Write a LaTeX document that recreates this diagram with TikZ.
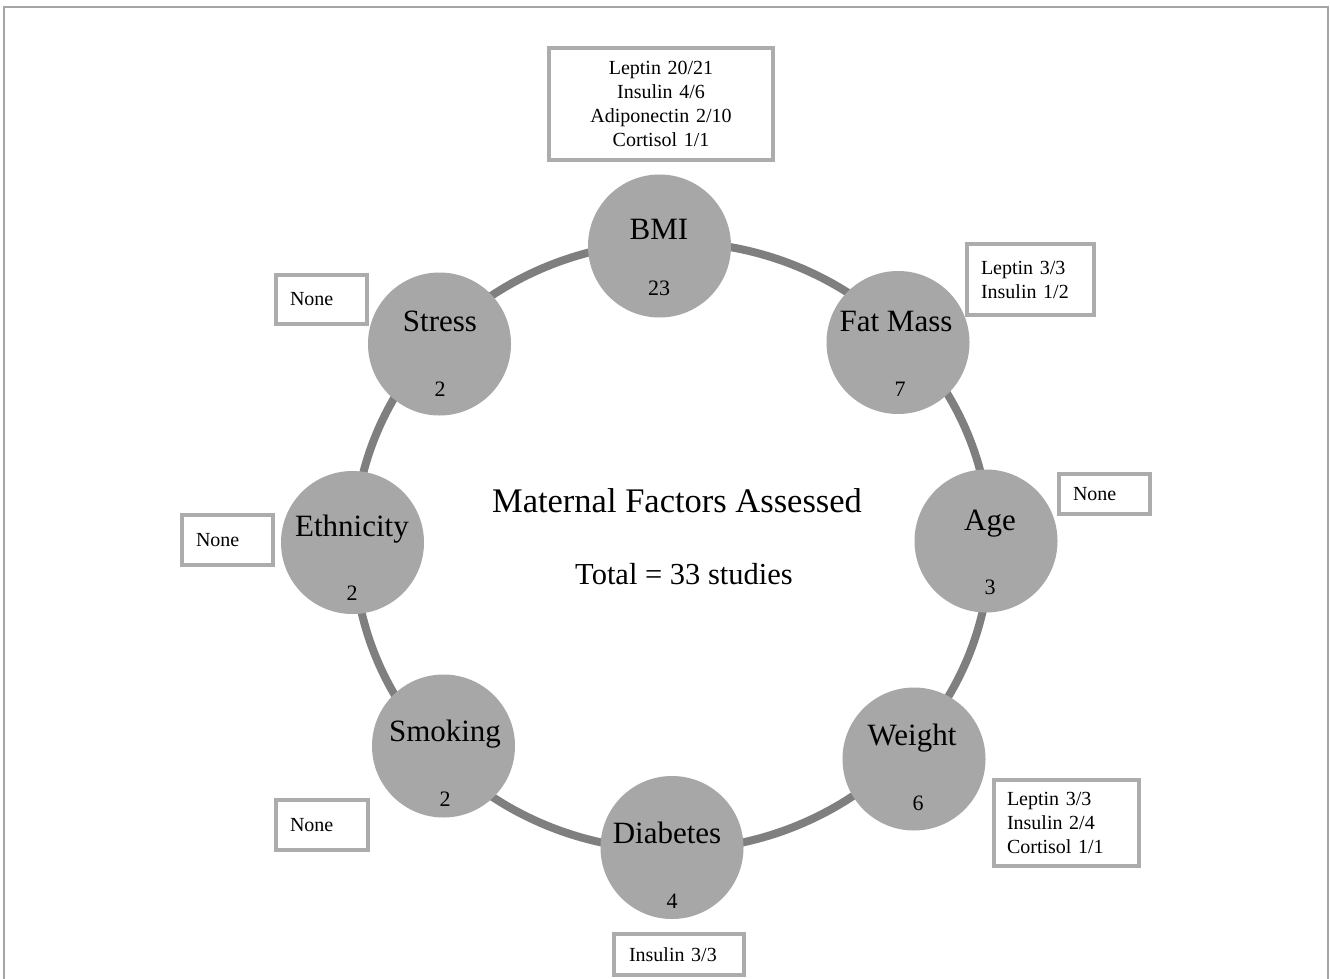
\documentclass[tikz,border=0pt]{standalone}
\usepackage{fontspec}
\setmainfont{Liberation Serif}
\definecolor{circfill}{RGB}{167,167,167}
\definecolor{ringc}{RGB}{127,127,127}
\definecolor{boxc}{RGB}{172,172,172}
\definecolor{framec}{RGB}{165,165,165}
\begin{document}
\begin{tikzpicture}[x=1pt,y=-1pt,
  circ/.style={circle, fill=circfill, minimum size=143pt, inner sep=0pt},
  lab/.style={font=\fontsize{31}{36}\selectfont, inner sep=0pt, text height=20pt, text depth=0pt},
  num/.style={font=\fontsize{22}{26}\selectfont, inner sep=0pt, text height=15pt, text depth=0pt},
  infobox/.style={draw=boxc, line width=4pt, fill=white, font=\fontsize{20}{24}\selectfont,
                  inner xsep=14pt, inner ysep=0pt, align=left},
  ring/.style={draw=ringc, line width=8pt}
]
\useasboundingbox (0,0) rectangle (1330,979);
\fill[white] (0,0) rectangle (1330,979);
\draw[framec, line width=1.5pt] (4,979) -- (4,7) -- (1328,7) -- (1328,979);

% circle positions
\coordinate (cbmi) at (659.5,246);
\coordinate (cfm)  at (898,342.5);
\coordinate (cage) at (986,541);
\coordinate (cwt)  at (914,759);
\coordinate (cdia) at (672,847.5);
\coordinate (csmk) at (443.5,746);
\coordinate (ceth) at (352.5,542.5);
\coordinate (cstr) at (439.5,344);

% ring
\draw[ring] (672,546) ellipse [x radius=318pt, y radius=304pt];

% circles
\node[circ] (bmi) at (cbmi) {};
\node[circ] (fm)  at (cfm)  {};
\node[circ] (age) at (cage) {};
\node[circ] (wt)  at (cwt)  {};
\node[circ] (dia) at (cdia) {};
\node[circ] (smk) at (csmk) {};
\node[circ] (eth) at (ceth) {};
\node[circ] (str) at (cstr) {};

% circle labels
\node[lab] (bmiL) at (659,229) {BMI};
\node[num] (bmiN) at (659,288) {23};
\node[lab] (fmL) at (896,321) {Fat Mass};
\node[num] (fmN) at (900,389) {7};
\node[lab] (ageL) at (990,520) {Age};
\node[num] (ageN) at (990,587) {3};
\node[lab] (wtL) at (912,735) {Weight};
\node[num] (wtN) at (918,803) {6};
\node[lab] (diaL) at (667,833) {Diabetes};
\node[num] (diaN) at (672,901) {4};
\node[lab] (smkL) at (445,731) {Smoking};
\node[num] (smkN) at (445,799) {2};
\node[lab] (ethL) at (352,526) {Ethnicity};
\node[num] (ethN) at (352,593) {2};
\node[lab] (strL) at (440,321) {Stress};
\node[num] (strN) at (440,389) {2};

% centre text
\node[inner sep=0pt, font=\fontsize{34.5}{40}\selectfont, text height=23pt, text depth=0pt] (title) at (677,501) {Maternal Factors Assessed};
\node[inner sep=0pt, font=\fontsize{30.5}{36}\selectfont, text height=20pt, text depth=0pt] (total) at (684,574) {Total = 33 studies};

% info boxes
\node[infobox, align=center, text width=196pt, minimum height=112pt] (bmiB) at (661,104)
  {Leptin 20/21\\Insulin 4/6\\Adiponectin 2/10\\Cortisol 1/1};
\node[infobox, text width=99pt, minimum height=71pt] (fmB) at (1030.5,279.5)
  {Leptin 3/3\\Insulin 1/2};
\node[infobox, text width=63pt, minimum height=40pt] (ageB) at (1104.5,494) {None};
\node[infobox, text width=119pt, inner xsep=13pt, minimum height=86pt] (wtB) at (1066.5,823)
  {Leptin 3/3\\Insulin 2/4\\Cortisol 1/1};
\node[infobox, text width=100pt, inner xsep=15pt, minimum height=41pt] (diaB) at (679,954.5) {Insulin 3/3};
\node[infobox, text width=64pt, minimum height=50pt] (smkB) at (322,825) {None};
\node[infobox, text width=63pt, minimum height=50pt] (ethB) at (227.5,540) {None};
\node[infobox, text width=63pt, minimum height=49pt] (strB) at (321.5,299.5) {None};
\end{tikzpicture}
\end{document}
